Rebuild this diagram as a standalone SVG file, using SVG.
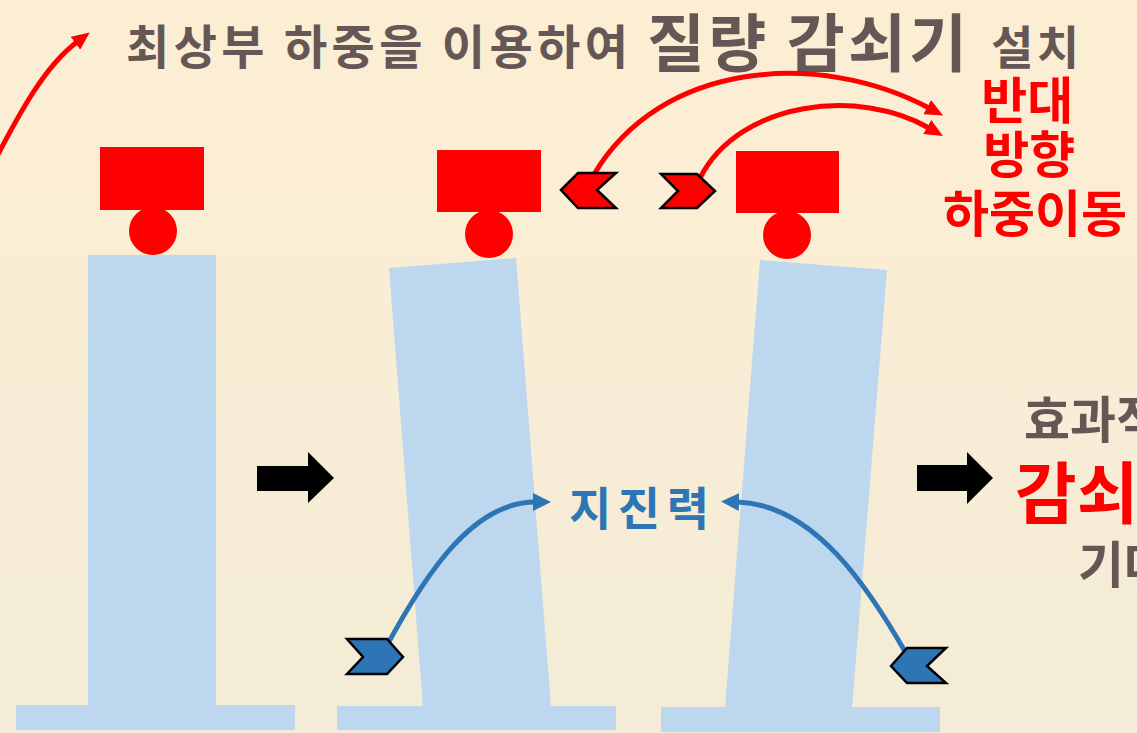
<svg xmlns="http://www.w3.org/2000/svg" width="1137" height="733" viewBox="0 0 1137 733">
  <defs>
    <linearGradient id="bg" x1="0" y1="0" x2="0" y2="1">
      <stop offset="0" stop-color="#FCEED3"/>
      <stop offset="1" stop-color="#F4ECD7"/>
    </linearGradient>
    <marker id="headRed" viewBox="0 0 18 16" refX="2" refY="8" markerWidth="18" markerHeight="16" markerUnits="userSpaceOnUse" orient="auto">
      <path d="M0,0 L18,8 L0,16 Z" fill="#FF0000"/>
    </marker>
    <marker id="headBlue" viewBox="0 0 18 18" refX="2" refY="9" markerWidth="18" markerHeight="18" markerUnits="userSpaceOnUse" orient="auto">
      <path d="M0,0 L18,9 L0,18 Z" fill="#2E75B6"/>
    </marker>
  </defs>
  <style>
    .ko { font-family: "Noto Sans CJK KR", "Noto Sans", sans-serif; font-weight: 700; }
    .grey { fill: #645755; }
    .red { fill: #FF0000; }
    .blue { fill: #2E75B6; }
    .column { fill: #BDD7EE; }
    .mass { fill: #FF0000; }
    .chev-red { fill: #FF0000; stroke: #000; stroke-width: 2.5; stroke-linejoin: miter; }
    .chev-blue { fill: #2E75B6; stroke: #000; stroke-width: 2.5; stroke-linejoin: miter; }
    .link-red { fill: none; stroke: #FF0000; stroke-width: 5; marker-end: url(#headRed); }
    .link-blue { fill: none; stroke: #2E75B6; stroke-width: 5; stroke-linecap: round; marker-end: url(#headBlue); }
    .step { fill: #000; }
  </style>

  <rect x="0" y="0" width="1137" height="733" fill="url(#bg)"/>

  <!-- title -->
  <g id="title">
    <text class="ko grey" x="126" y="64" font-size="47" textLength="502" lengthAdjust="spacing">최상부 하중을 이용하여</text>
    <text class="ko grey" x="647" y="66" font-size="63" textLength="320" lengthAdjust="spacing">질량 감쇠기</text>
    <text class="ko grey" x="991" y="64" font-size="46" textLength="88" lengthAdjust="spacing">설치</text>
  </g>

  <!-- building 1: upright -->
  <g id="building1">
    <rect class="column" x="16" y="705" width="279" height="25"/>
    <rect class="column" x="88" y="255" width="128" height="451"/>
    <circle class="mass" cx="153" cy="231" r="24"/>
    <rect class="mass" x="100" y="147" width="104" height="63"/>
  </g>

  <!-- building 2: swaying left at top -->
  <g id="building2">
    <rect class="column" x="337" y="706" width="279" height="24"/>
    <polygon class="column" points="389,268 516,258 551,707 423,707"/>
    <circle class="mass" cx="489" cy="234" r="24"/>
    <rect class="mass" x="437" y="150" width="104" height="62"/>
  </g>

  <!-- building 3: swaying right at top -->
  <g id="building3">
    <rect class="column" x="661" y="707" width="279" height="25"/>
    <polygon class="column" points="760,260 887,270 852,708 725,708"/>
    <circle class="mass" cx="787" cy="235" r="24"/>
    <rect class="mass" x="736" y="151" width="103" height="62"/>
  </g>

  <!-- step arrows -->
  <g id="step1">
    <polygon class="step" points="257,466 308,466 308,452 334,478 308,503 308,491 257,491"/>
  </g>
  <g id="step2">
    <polygon class="step" points="917,465 967,465 967,452 993,478 967,504 967,491 917,491"/>
  </g>

  <!-- connectors -->
  <g id="connectors">
    <path class="link-red" d="M-6,162 C 20,112 45,66 77,42"/>
    <path class="link-red" d="M593,176 C 660,60 820,50 929,108"/>
    <path class="link-red" d="M700,178 C 740,100 860,88 929,128"/>
    <path class="link-blue" d="M373,672 C 420,580 470,502 535,502"/>
    <path class="link-blue" d="M907,655 C 870,590 815,504 737,502"/>
  </g>

  <!-- moving-load markers -->
  <g id="loadLeft">
    <polygon class="chev-red" points="561,190 578,173 616,173 597,190 616,208 578,208"/>
  </g>
  <g id="loadRight">
    <polygon class="chev-red" points="661,174 697,174 715,191 697,208 661,208 678,191"/>
  </g>
  <g id="quakeLeft">
    <polygon class="chev-blue" points="347,639 387,639 403,657 387,674 347,674 363,657"/>
  </g>
  <g id="quakeRight">
    <polygon class="chev-blue" points="891,666 907,648 946,648 927,666 946,683 907,683"/>
  </g>

  <!-- labels -->
  <g id="labelOpposite">
    <text class="ko red" font-size="50" text-anchor="middle">
      <tspan x="1033" y="119">반대</tspan>
      <tspan x="1035" y="173">방향</tspan>
      <tspan x="1035" y="232">하중이동</tspan>
    </text>
  </g>
  <g id="labelQuake">
    <text class="ko blue" x="569" y="525" font-size="46" textLength="140" lengthAdjust="spacing">지진력</text>
  </g>
  <g id="labelEffect">
    <text class="ko grey" x="1024" y="438" font-size="50">효과적</text>
    <text class="ko red" x="1015" y="518" font-size="67">감쇠</text>
    <text class="ko grey" x="1078" y="583" font-size="50">기대</text>
  </g>
</svg>
